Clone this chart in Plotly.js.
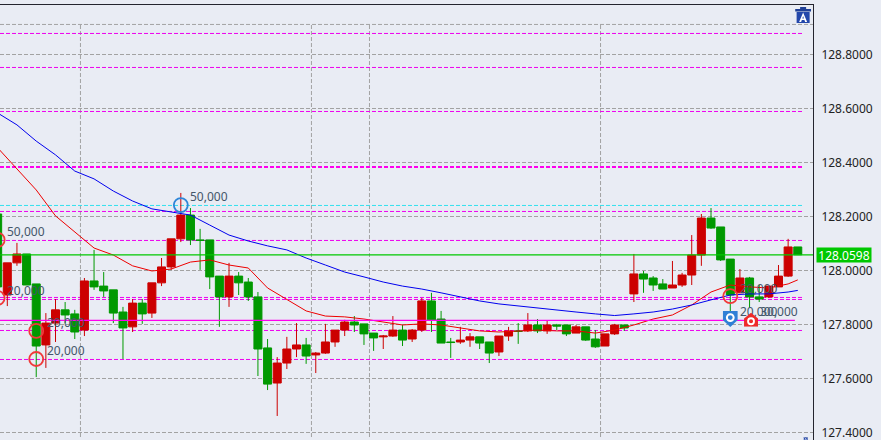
<!DOCTYPE html>
<html><head><meta charset="utf-8">
<script src="https://cdn.plot.ly/plotly-3.0.0.min.js"></script>
<style>html,body{margin:0;padding:0;background:#e9ecf4}#c{width:881px;height:440px}</style>
</head><body><div id="c"></div>
<script>
const candleOpen=[128.211,127.911,128.030,128.063,127.952,127.726,127.807,127.856,127.841,127.781,127.963,127.944,127.930,127.848,127.793,127.881,127.844,127.956,128.015,128.119,128.207,128.115,128.115,127.981,127.904,127.981,127.959,127.904,127.715,127.585,127.659,127.711,127.726,127.689,127.696,127.737,127.781,127.811,127.804,127.770,127.756,127.759,127.781,127.748,127.781,127.889,127.822,127.737,127.737,127.744,127.756,127.737,127.700,127.759,127.778,127.778,127.800,127.778,127.800,127.800,127.770,127.793,127.748,127.722,127.767,127.800,127.915,127.989,127.974,127.952,127.937,127.948,127.985,128.059,128.196,128.163,128.044,127.919,127.974,127.904,127.904,127.941,127.981,128.089];
const candleHigh=[128.211,128.030,128.104,128.063,127.952,127.844,127.896,127.885,127.856,127.974,128.078,127.996,127.930,127.867,127.896,127.896,127.956,128.048,128.119,128.289,128.233,128.156,128.115,127.981,128.030,127.996,127.974,127.922,127.748,127.681,127.756,127.807,127.752,127.700,127.804,127.781,127.819,127.833,127.804,127.770,127.763,127.833,127.800,127.785,127.900,127.919,127.852,127.752,127.793,127.770,127.756,127.737,127.759,127.793,127.807,127.844,127.822,127.815,127.804,127.800,127.800,127.793,127.781,127.767,127.804,127.800,128.063,128.000,127.981,127.970,128.037,127.993,128.133,128.211,128.233,128.163,128.044,128.007,127.978,127.948,127.944,128.022,128.119,128.089];
const candleLow=[127.941,127.870,128.019,127.948,127.607,127.641,127.737,127.807,127.748,127.759,127.930,127.904,127.807,127.674,127.774,127.804,127.826,127.944,128.004,128.107,128.096,128.004,127.933,127.793,127.867,127.911,127.889,127.611,127.559,127.463,127.637,127.681,127.656,127.622,127.693,127.719,127.759,127.774,127.726,127.704,127.711,127.756,127.722,127.737,127.774,127.774,127.733,127.678,127.730,127.719,127.711,127.659,127.685,127.741,127.730,127.774,127.770,127.767,127.781,127.759,127.770,127.741,127.715,127.722,127.763,127.778,127.885,127.919,127.926,127.933,127.937,127.941,127.948,128.019,128.156,128.037,127.848,127.919,127.863,127.885,127.900,127.941,127.978,128.0598];
const candleClose=[127.941,128.030,128.063,127.948,127.722,127.807,127.856,127.837,127.774,127.963,127.941,127.926,127.844,127.789,127.881,127.841,127.956,128.015,128.119,128.207,128.115,128.113,127.978,127.904,127.981,127.956,127.904,127.711,127.581,127.659,127.711,127.726,127.685,127.696,127.737,127.781,127.811,127.800,127.767,127.752,127.759,127.781,127.744,127.781,127.889,127.819,127.733,127.735,127.744,127.756,127.733,127.696,127.759,127.778,127.776,127.800,127.778,127.800,127.796,127.767,127.793,127.744,127.719,127.767,127.800,127.789,127.989,127.970,127.948,127.933,127.948,127.985,128.059,128.196,128.159,128.041,127.911,127.974,127.904,127.896,127.944,127.981,128.089,128.0598];

const avgIndex=[0,2,4,6,8,10,12,14,16,18,20,22,24,26,28,30,32,34,36,38,40,42,44,46,48,50,52,54,56,58,60,62,64,66,68,70,72,74,76,78,80,82,83];
const blueAvg=[128.585,128.541,128.481,128.430,128.370,128.341,128.296,128.259,128.230,128.219,128.207,128.170,128.133,128.111,128.093,128.078,128.048,128.022,127.996,127.978,127.959,127.944,127.933,127.919,127.904,127.889,127.878,127.870,127.863,127.856,127.848,127.841,127.835,127.841,127.848,127.859,127.874,127.893,127.911,127.915,127.915,127.922,127.928];
const redAvg=[128.456,128.378,128.300,128.204,128.144,128.085,128.059,128.019,128.000,128.007,128.033,128.041,128.022,128.011,127.937,127.893,127.852,127.833,127.830,127.822,127.811,127.800,127.804,127.800,127.789,127.778,127.774,127.778,127.781,127.778,127.778,127.770,127.781,127.800,127.822,127.837,127.874,127.922,127.948,127.941,127.937,127.952,127.967];

const tickPrices=[128.8,128.6,128.4,128.2,128.0,127.8,127.6,127.4];
const extraGridPrice=128.913;
const verticalGridIndex=[8.59,32.55,38.57,62.54];
const dashedLevels=[128.8796,128.7537,128.5907,128.2204,128.113,127.9019,127.8944,127.7796,127.6722];
const heavyLevel=128.3852;
const cyanLevel=128.2426;
const lastPrice=128.0598;
const magentaLevel=127.817;

const redRingIndex=[0,0,4,4,76];
const redRingPrice=[128.115,127.900,127.778,127.674,127.907];
const blueRingIndex=[19];
const blueRingPrice=[128.244];
const noteIndex=[0.97,0.97,5.12,5.12,19.95,77,77,79.1];
const notePrice=[128.141,127.922,127.804,127.700,128.270,127.930,127.844,127.844];
const noteText=['50,000','20,000','20,000','20,000','50,000','20,000','20,000','30,000'];

const xMin=0.243,xMax=84.58,levelEnd=83.45,magentaEnd=82.7;
const allIndex=candleOpen.map((_,i)=>i);
const GREY='#a2a2a2',MAG='#ee00ee';

const traces=[
 {type:'candlestick',x:allIndex,open:candleOpen,high:candleHigh,low:candleLow,close:candleClose,whiskerwidth:0,
  increasing:{line:{color:'#cc0000',width:1},fillcolor:'#cc0000'},
  decreasing:{line:{color:'#009900',width:1},fillcolor:'#009900'},hoverinfo:'skip'},
 {type:'scatter',mode:'lines',x:avgIndex,y:redAvg,line:{color:'#ee0000',width:1},hoverinfo:'skip'},
 {type:'scatter',mode:'lines',x:avgIndex,y:blueAvg,line:{color:'#0000ee',width:1},hoverinfo:'skip'},
 {type:'scatter',mode:'lines',x:[xMin,xMax],y:[lastPrice,lastPrice],line:{color:'#00c800',width:1.2},hoverinfo:'skip'},
 {type:'scatter',mode:'lines',x:[xMin,magentaEnd],y:[magentaLevel,magentaLevel],line:{color:'#ff00ee',width:1.2},hoverinfo:'skip'},
 {type:'scatter',mode:'markers',x:redRingIndex,y:redRingPrice,cliponaxis:true,marker:{symbol:'circle-open',size:14,color:'#f03a3a',line:{width:1.8}},hoverinfo:'skip'},
 {type:'scatter',mode:'markers',x:blueRingIndex,y:blueRingPrice,marker:{symbol:'circle-open',size:14,color:'#2f86d8',line:{width:1.8}},hoverinfo:'skip'},
 {type:'scatter',mode:'text',x:noteIndex,y:notePrice,text:noteText,textposition:'middle right',textfont:{family:'Noto Sans',size:12,color:'#44566a'},hoverinfo:'skip'}
];

const shapes=[];
const hline=(p,x1,color,w,dash)=>shapes.push({type:'line',layer:'below',xref:'x',yref:'y',x0:xMin,x1:x1,y0:p,y1:p,line:{color:color,width:w,dash:dash}});
hline(extraGridPrice,xMax,GREY,1,'4px,2px');
verticalGridIndex.forEach(v=>shapes.push({type:'line',layer:'below',xref:'x',yref:'y',x0:v,x1:v,y0:127.385,y1:extraGridPrice,line:{color:GREY,width:1,dash:'4px,2px'}}));
dashedLevels.forEach(p=>hline(p,levelEnd,MAG,1,'4px,2px'));
hline(heavyLevel,levelEnd,'#ff00ee',2,'4px,2px');
hline(cyanLevel,levelEnd,'#33e0ee',1,'4px,2px');

const svg=s=>'data:image/svg+xml;utf8,'+encodeURIComponent(s);
const iconA="<svg xmlns='http://www.w3.org/2000/svg' viewBox='0 0 16 16'><rect x='5' y='0' width='6' height='2' fill='#1f3f96'/><rect x='0' y='2' width='16' height='2.5' fill='#1f3f96'/><rect x='1.5' y='5' width='13' height='11' fill='#2347ab'/><path d='M8 5.5 L12 15 H10 L9.3 13 H6.7 L6 15 H4 Z M8 9 L7.2 11.5 H8.8 Z' fill='#ffffff' fill-rule='evenodd'/></svg>";
const shield="<svg xmlns='http://www.w3.org/2000/svg' viewBox='0 0 15 16'><path d='M0 0H15V9L7.5 16L0 9Z' fill='#2f7fd6'/><circle cx='7.5' cy='6.5' r='3.4' fill='none' stroke='#ffffff' stroke-width='2'/></svg>";
const house="<svg xmlns='http://www.w3.org/2000/svg' viewBox='0 0 15 15'><path d='M7.5 0L15 6V15H0V6Z' fill='#ee2a2a'/><circle cx='7.5' cy='9' r='3.2' fill='none' stroke='#ffffff' stroke-width='2'/></svg>";
const images=[
 {source:svg(iconA),xref:'paper',yref:'paper',x:0.978,y:0.9954,sizex:0.0197,sizey:0.0368,sizing:'stretch',xanchor:'left',yanchor:'top',layer:'above'},
 {source:svg(iconA),xref:'paper',yref:'paper',x:0.988,y:0.0069,sizex:0.006,sizey:0.0069,sizing:'stretch',xanchor:'left',yanchor:'top',layer:'above'},
 {source:svg(shield),xref:'x',yref:'y',x:76,y:127.822,sizex:1.556,sizey:0.059,sizing:'stretch',xanchor:'center',yanchor:'middle',layer:'above'},
 {source:svg(house),xref:'x',yref:'y',x:78.15,y:127.819,sizex:1.45,sizey:0.052,sizing:'stretch',xanchor:'center',yanchor:'middle',layer:'above'}
];

const layout={
 width:881,height:440,margin:{l:0,r:68,t:5,b:0},showlegend:false,
 paper_bgcolor:'#e9ecf4',plot_bgcolor:'#e9ecf4',boxgap:0.17,boxgroupgap:0,
 font:{family:'Noto Sans',size:12,color:'#222222'},
 xaxis:{range:[xMin,xMax],side:'top',showline:true,linecolor:'#24242e',linewidth:1,showgrid:false,zeroline:false,showticklabels:false,ticks:'',rangeslider:{visible:false},fixedrange:true},
 yaxis:{range:[127.374,128.985],side:'right',showline:true,linecolor:'#24242e',linewidth:1,tickmode:'array',tickvals:tickPrices,ticktext:tickPrices.map(v=>v.toFixed(4)),ticklabeloverflow:'allow',
  showgrid:true,gridcolor:GREY,griddash:'4px,2px',gridwidth:1,zeroline:false,ticks:'',ticklabelstandoff:5,tickfont:{family:'Noto Sans',size:12,color:'#222222'},fixedrange:true},
 shapes:shapes,images:images,
 annotations:[{xref:'paper',yref:'y',x:1.0037,y:lastPrice,xanchor:'left',yanchor:'middle',showarrow:false,text:lastPrice.toFixed(4),bgcolor:'#00c800',width:54,height:14,align:'center',font:{family:'Noto Sans',size:12,color:'#ffffff'},borderpad:0}]
};
Plotly.newPlot('c',traces,layout,{displayModeBar:false,staticPlot:true});
</script></body></html>
